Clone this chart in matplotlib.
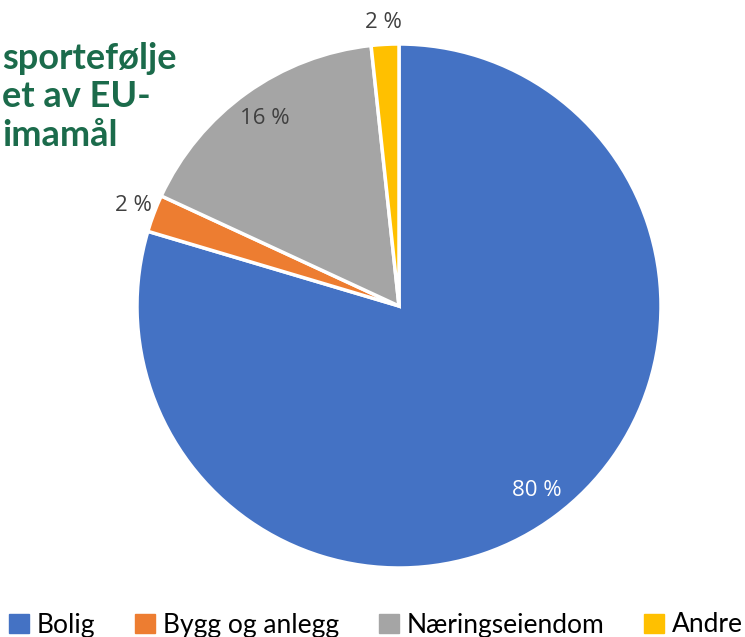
import matplotlib
matplotlib.use("Agg")
import matplotlib.pyplot as plt
import numpy as np

# data
categories = ["Bolig", "Bygg og anlegg", "Næringseiendom", "Andre"]
shares = [79.6, 2.3, 16.4, 1.7]
pct_labels = ["80 %", "2 %", "16 %", "2 %"]
colors = ["#4472C4", "#ED7D31", "#A5A5A5", "#FFC000"]
title_lines = ["sportefølje", "et av EU-", "imamål"]

W, H, DPI = 745, 637, 100
fig = plt.figure(figsize=(W / DPI, H / DPI), dpi=DPI)

# pie centred at (399, 306) px, radius 262 px
cx, cy, r = 399, 306, 262
ax = fig.add_axes([(cx - r) / W, (H - cy - r) / H, 2 * r / W, 2 * r / H])
wedges, _ = ax.pie(shares, colors=colors, startangle=90, counterclock=False,
                   radius=1, wedgeprops=dict(edgecolor="white", linewidth=2.5))
ax.set_xlim(-1, 1)
ax.set_ylim(-1, 1)
ax.set_aspect("equal")
ax.axis("off")

# percentage labels: inside for big slices, just outside for the small ones
for w, share, lab in zip(wedges, shares, pct_labels):
    mid = np.deg2rad((w.theta1 + w.theta2) / 2)
    if share > 5:
        dist = 0.88
        col = "white" if share > 50 else "#404040"
    else:
        dist = 1.085
        col = "#404040"
    ax.text(dist * np.cos(mid), dist * np.sin(mid), lab, ha="center", va="center",
            fontsize=16, color=col, family="Open Sans", clip_on=False)

# clipped title, top-left
fig.text(2 / W, 1 - 42 / H, "\n".join(title_lines), ha="left", va="top",
         fontsize=26, fontweight="bold", color="#1B6B4B", family="Lato",
         linespacing=1.2)

handles = [plt.Rectangle((0, 0), 1, 1, color=c) for c in colors]
fig.legend(handles, categories, loc="center left", bbox_to_anchor=(9 / W, 1 - 625 / H),
           ncol=4, frameon=False, prop=dict(family="Lato", size=19),
           handlelength=0.76, handleheight=0.76, handletextpad=0.3,
           columnspacing=1.5, borderpad=0, borderaxespad=0)

fig.savefig("out.png", dpi=DPI)
